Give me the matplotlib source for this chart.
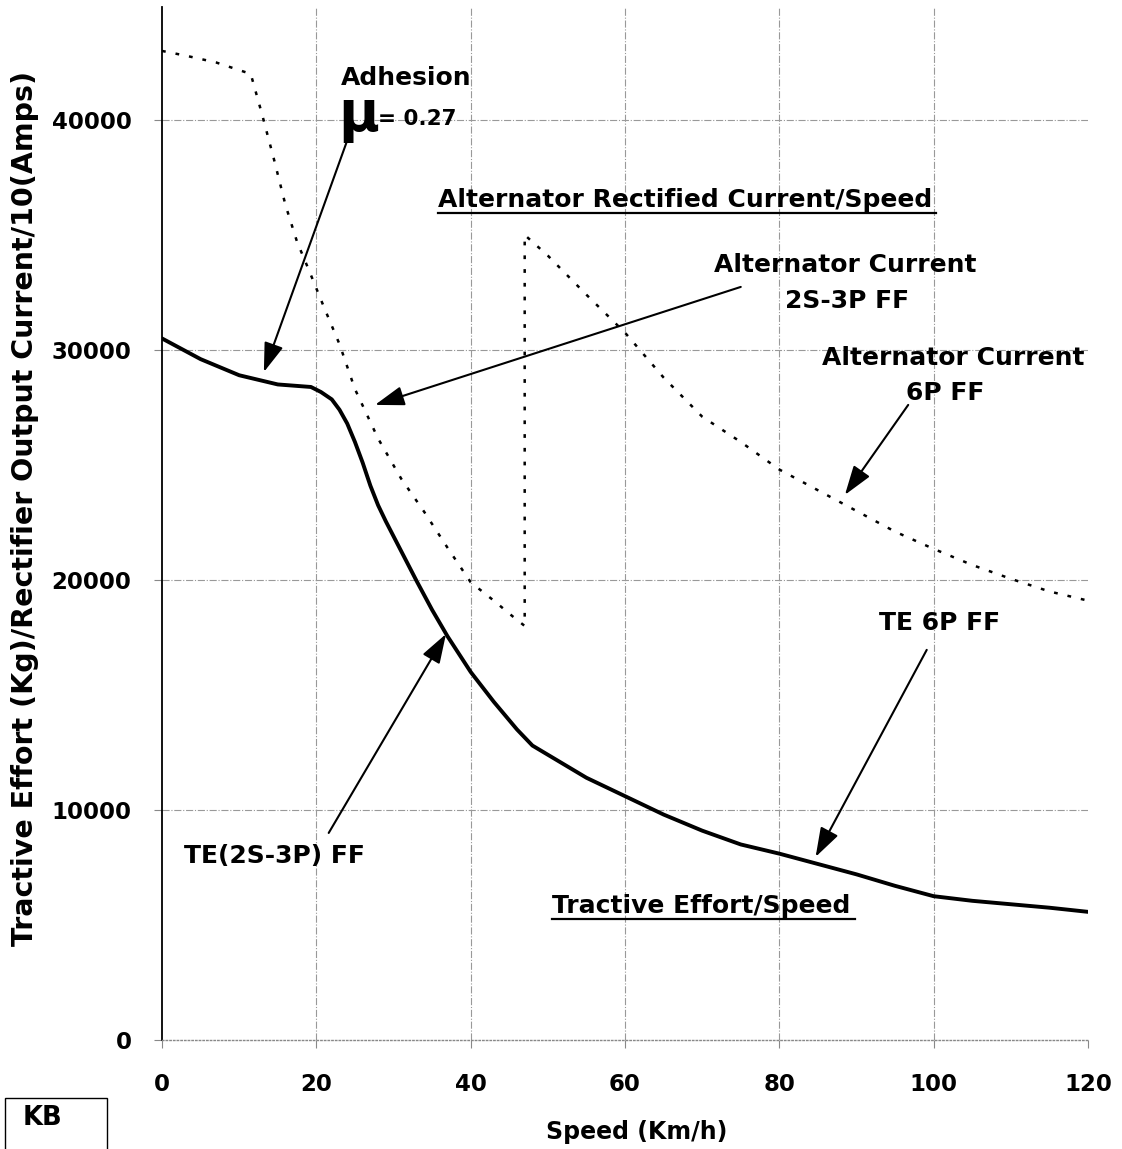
import matplotlib.pyplot as plt
from matplotlib.lines import Line2D
from matplotlib.patches import Rectangle

# ===============================
# DADOS
# ===============================
# Esforço trator (Kg) x velocidade
velocidade_te = [0, 5, 10, 15, 19.3, 20.6, 22, 23, 24, 25, 26, 27, 28, 29,
                 30, 31, 32, 33, 35, 37, 40, 43, 46, 48, 50, 55, 60, 65,
                 70, 75, 80, 85, 90, 95, 100, 105, 110, 115, 120]
esforco_te = [30500, 29600, 28900, 28500, 28390, 28170, 27850, 27400, 26800,
              26000, 25100, 24100, 23250, 22550, 21900, 21250, 20600, 19950,
              18700, 17550, 16000, 14700, 13500, 12800, 12400, 11400, 10600,
              9800, 9100, 8500, 8100, 7650, 7200, 6700, 6250, 6050, 5900,
              5750, 5570]

# Corrente do alternador /10 (A): 2S-3P até 47 km/h, depois 6P
velocidade_corr = [0, 3, 7, 11.5, 13, 14.5, 16, 17.5, 19, 21, 23, 25, 28, 31,
                   34, 37, 40, 43, 45.5, 47, 47, 50, 55, 60, 65, 70, 75, 80,
                   85, 90, 95, 100, 105, 110, 115, 120]
corrente = [43000, 42800, 42500, 42000, 40200, 38300, 36300, 34700, 33500,
            31850, 30250, 28300, 26150, 24400, 22950, 21400, 19900, 19100,
            18400, 18000, 35000, 34100, 32400, 30750, 28800, 27100, 26000,
            24800, 23900, 23000, 22100, 21350, 20650, 20050, 19500, 19100]

X_TICKS = [0, 20, 40, 60, 80, 100, 120]
Y_TICKS = [0, 10000, 20000, 30000, 40000]

# ===============================
# ESTILO
# ===============================
plt.rcParams.update({
    'font.family': 'DejaVu Sans',
    'font.weight': 'bold',
    'axes.labelweight': 'bold',
})

fig = plt.figure(figsize=(11.22, 11.49), dpi=100)
ax = fig.add_axes([0.1444, 0.0949, 0.8253, 0.8988])

ax.plot(velocidade_corr, corrente, color='black', lw=1.8,
        linestyle=(0, (1.5, 4.0)))
ax.plot(velocidade_te, esforco_te, color='black', lw=2.8,
        solid_joinstyle='round', solid_capstyle='round')

ax.set_xlim(0, 120)
ax.set_ylim(0, 44900)
ax.set_xticks(X_TICKS)
ax.set_yticks(Y_TICKS)
ax.tick_params(axis='both', labelsize=16.5, length=6, width=0.8,
               color='#888888')
ax.tick_params(axis='x', pad=18)
ax.tick_params(axis='y', pad=16)

ax.grid(True, color='#999999', linestyle='-.', linewidth=0.8)
linhas_x = ax.xaxis.get_gridlines()
linhas_x[0].set_visible(False)
linhas_x[-1].set_visible(False)
ax.yaxis.get_gridlines()[0].set_visible(False)

ax.spines['top'].set_visible(False)
ax.spines['right'].set_visible(False)
ax.spines['left'].set_color('black')
ax.spines['left'].set_linewidth(1.3)
ax.spines['bottom'].set_color('#888888')
ax.spines['bottom'].set_linestyle(':')
ax.spines['bottom'].set_linewidth(1.0)

ax.set_xlabel('Speed (Km/h)', fontsize=17, fontweight='bold', labelpad=17)
ax.xaxis.label.set_x(0.513)
ax.set_ylabel('Tractive Effort (Kg)/Rectifier Output Current/10(Amps)',
              fontsize=20.5, fontweight='bold', labelpad=9)
ax.yaxis.label.set_y(0.515)

# ===============================
# ANOTAÇÕES
# ===============================
seta = dict(arrowstyle='-|>,head_length=0.9,head_width=0.3',
            mutation_scale=20, color='black', lw=1.5,
            shrinkA=0, shrinkB=0)

ax.text(31.6, 41520, 'Adhesion', fontsize=18, ha='center', va='baseline')
ax.text(25.5, 39500, 'μ', fontsize=40, fontweight='bold',
        ha='center', va='baseline')
ax.text(28.0, 39780, '= 0.27', fontsize=15.5, ha='left', va='baseline')
ax.annotate('', xy=(13.2, 29040), xytext=(24.4, 39480), arrowprops=seta)

titulo_corr = ax.text(67.8, 36220, 'Alternator Rectified Current/Speed',
                      fontsize=18, ha='center', va='baseline')

ax.text(88.6, 33390, 'Alternator Current', fontsize=18, ha='center',
        va='baseline')
ax.text(88.8, 31830, '2S-3P FF', fontsize=18, ha='center', va='baseline')
ax.annotate('', xy=(27.6, 27610), xytext=(75.0, 32740), arrowprops=seta)

ax.text(102.6, 29350, 'Alternator Current', fontsize=18, ha='center',
        va='baseline')
ax.text(101.5, 27830, '6P FF', fontsize=18, ha='center', va='baseline')
ax.annotate('', xy=(88.5, 23700), xytext=(96.7, 27610), arrowprops=seta)

ax.text(100.8, 17830, 'TE 6P FF', fontsize=18, ha='center', va='baseline')
ax.annotate('', xy=(84.7, 7960), xytext=(99.1, 16960), arrowprops=seta)

ax.text(14.6, 7700, 'TE(2S-3P) FF', fontsize=18, ha='center', va='baseline')
ax.annotate('', xy=(36.8, 17650), xytext=(21.6, 9000), arrowprops=seta)

titulo_te = ax.text(69.9, 5520, 'Tractive Effort/Speed', fontsize=18,
                    ha='center', va='baseline')


def sublinhar(txt, desce=6):
    """Desenha um sublinhado sob o texto (baseline - desce px)."""
    fig.canvas.draw()
    bb = txt.get_window_extent()
    y_base = ax.transData.transform(txt.get_position())[1] - desce
    pts = fig.transFigure.inverted().transform([[bb.x0, y_base],
                                                [bb.x1 + 4, y_base]])
    fig.add_artist(Line2D(pts[:, 0], pts[:, 1], color='black', lw=1.6,
                          transform=fig.transFigure))


sublinhar(titulo_corr)
sublinhar(titulo_te)

# Caixa "KB" no canto inferior esquerdo
fig.add_artist(Rectangle((5 / 1122, -0.01), 102 / 1122, 0.01 + 51 / 1149,
                         transform=fig.transFigure, fill=False,
                         edgecolor='black', lw=1.0))
fig.text(23 / 1122, 1 - 1118 / 1149, 'KB', fontsize=18.5, ha='left',
         va='center')

plt.savefig('out.png', dpi=100)
plt.close()
